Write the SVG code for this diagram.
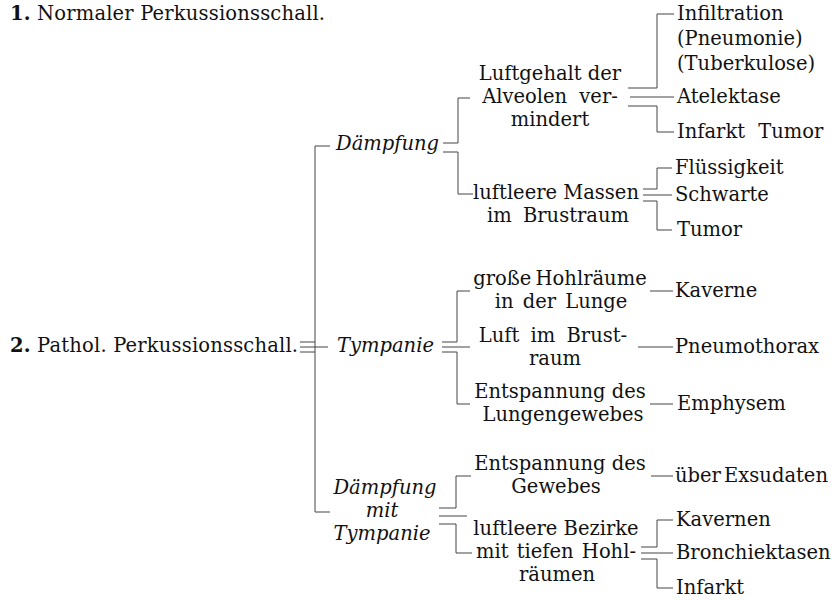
<svg xmlns="http://www.w3.org/2000/svg" width="839" height="600" viewBox="0 0 839 600">
<style>
text{font-family:"DejaVu Serif","Liberation Serif",serif;font-size:19.5px;fill:#111}
.i{font-style:italic}
.b{font-weight:bold}
.c{text-anchor:middle}
#connectors path{fill:none;stroke:#444;stroke-width:1}
</style>
<rect width="839" height="600" fill="#fff"/>
<g id="connectors">
<path d="M330 146H315V512H330"/>
<path d="M300 342H315M300 347H328M300 352H315"/>
<path d="M443 143H458V98H470M443 152H458V194H473"/>
<path d="M628 88H657V14H674M630 97H674M628 106H657V132H674"/>
<path d="M643 189H657V168H672M643 195H672M643 201H657V230H672"/>
<path d="M442 342H457V291H470M442 347H470M442 352H457V404H470"/>
<path d="M650 291H673M638 347H673M650 404H673"/>
<path d="M439 508H456V476H471M439 516H467M439 524H456V553H472"/>
<path d="M651 476H673"/>
<path d="M641 547H657V520H673M641 553H673M641 559H657V588H673"/>
</g>
<g id="n1"><text x="10" y="20" textLength="315"><tspan class="b">1.</tspan> Normaler Perkussionsschall.</text></g>
<g id="n2"><text x="10" y="352" textLength="288"><tspan class="b">2.</tspan> Pathol. Perkussionsschall.</text></g>
<g id="daempfung"><text class="i" x="336" y="150">Dämpfung</text></g>
<g id="luftgehalt"><text class="c" x="550" y="80">Luftgehalt der</text><text class="c" x="550" y="103" word-spacing="6">Alveolen ver-</text><text class="c" x="550" y="126">mindert</text></g>
<g id="infiltration"><text x="677" y="20">Infiltration</text><text x="677" y="45">(Pneumonie)</text><text x="677" y="70">(Tuberkulose)</text></g>
<g id="atelektase"><text x="677" y="103">Atelektase</text></g>
<g id="infarkt1"><text x="677" y="138" word-spacing="7">Infarkt Tumor</text></g>
<g id="massen"><text class="c" x="556" y="199">luftleere Massen</text><text class="c" x="558" y="222" word-spacing="5">im Brustraum</text></g>
<g id="fluessigkeit"><text x="675" y="174">Flüssigkeit</text></g>
<g id="schwarte"><text x="675" y="201">Schwarte</text></g>
<g id="tumor"><text x="677" y="236">Tumor</text></g>
<g id="tympanie"><text class="i" x="337" y="352">Tympanie</text></g>
<g id="hohlraeume"><text class="c" x="560" y="285" word-spacing="-2">große Hohlräume</text><text class="c" x="561" y="308" word-spacing="3">in der Lunge</text></g>
<g id="kaverne"><text x="675" y="297">Kaverne</text></g>
<g id="luft"><text class="c" x="553" y="342" word-spacing="5">Luft im Brust-</text><text class="c" x="555" y="365">raum</text></g>
<g id="pneumothorax"><text x="675" y="353">Pneumothorax</text></g>
<g id="entspannung1"><text class="c" x="560" y="398">Entspannung des</text><text class="c" x="563" y="421">Lungengewebes</text></g>
<g id="emphysem"><text x="677" y="410">Emphysem</text></g>
<g id="dt"><text class="i c" x="385" y="494">Dämpfung</text><text class="i c" x="382" y="517">mit</text><text class="i c" x="382" y="540">Tympanie</text></g>
<g id="entspannung2"><text class="c" x="560" y="470">Entspannung des</text><text class="c" x="556" y="493">Gewebes</text></g>
<g id="exsudaten"><text x="675" y="482" word-spacing="-3">über Exsudaten</text></g>
<g id="bezirke"><text class="c" x="556" y="535">luftleere Bezirke</text><text class="c" x="556" y="558" word-spacing="2">mit tiefen Hohl-</text><text class="c" x="557" y="581">räumen</text></g>
<g id="kavernen"><text x="676" y="526">Kavernen</text></g>
<g id="bronchiektasen"><text x="676" y="559">Bronchiektasen</text></g>
<g id="infarkt2"><text x="676" y="594">Infarkt</text></g>
</svg>
